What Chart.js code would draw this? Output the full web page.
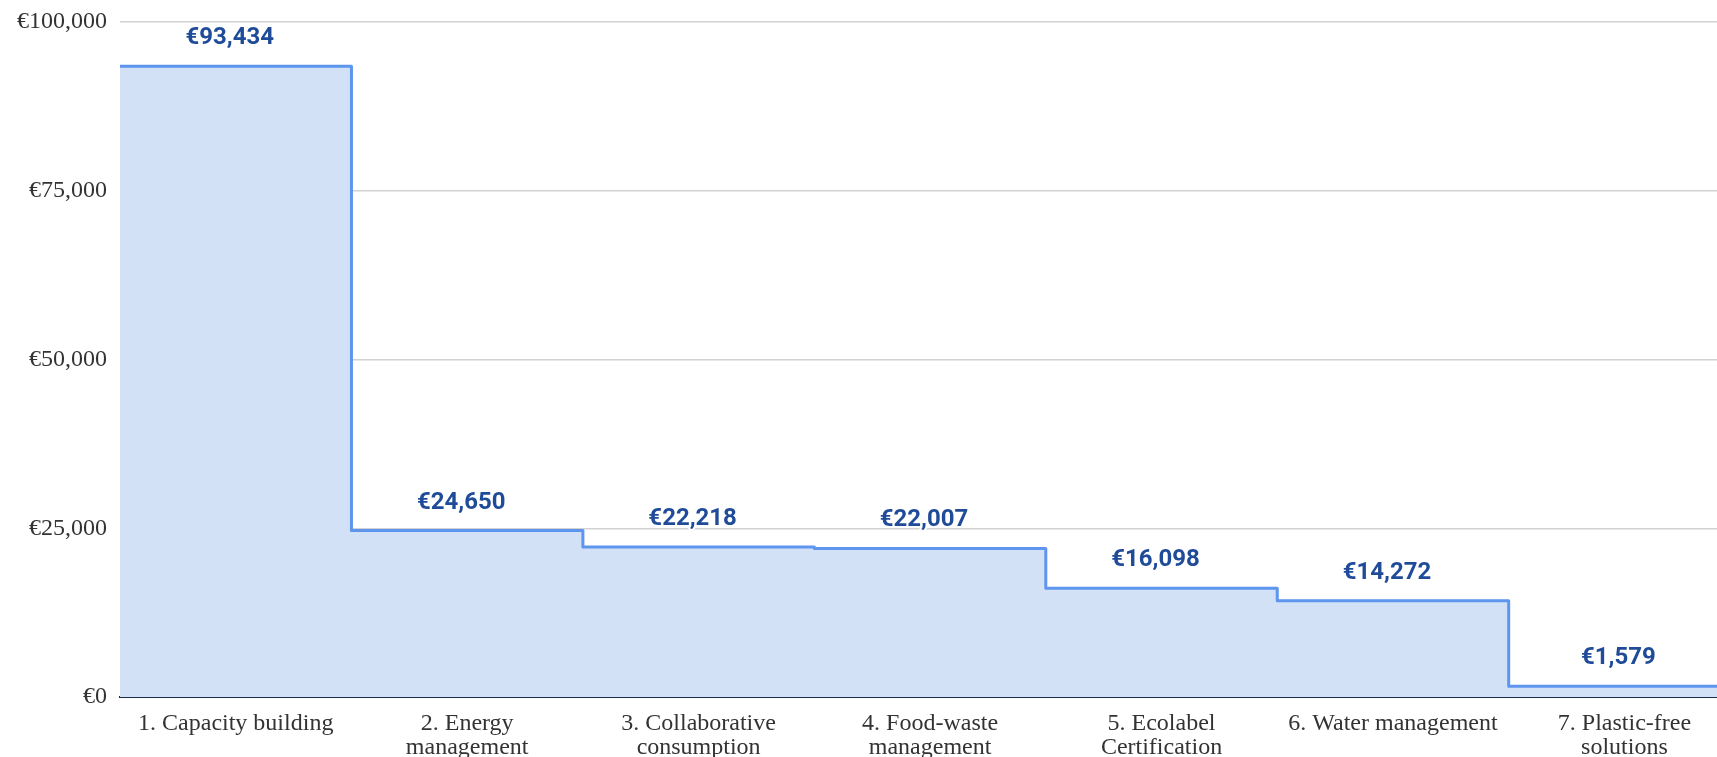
<!DOCTYPE html>
<html>
<head>
<meta charset="utf-8">
<script src="https://cdn.jsdelivr.net/npm/chart.js@4.4.1/dist/chart.umd.min.js"></script>
<style>
  html, body { margin: 0; padding: 0; background: #fff; }
  #wrap { width: 1717px; height: 757px; }
</style>
</head>
<body>
<div id="wrap"><canvas id="chart-steps"></canvas></div>
<script>
var categories = [
    '1. Capacity building',
    ['2. Energy', 'management'],
    ['3. Collaborative', 'consumption'],
    ['4. Food-waste', 'management'],
    ['5. Ecolabel', 'Certification'],
    '6. Water management',
    ['7. Plastic-free', 'solutions']
];
var amounts = [93434, 24650, 22218, 22007, 16098, 14272, 1579];
var yTicks = [0, 25000, 50000, 75000, 100000];

function euro(v) {
    return '€' + v.toLocaleString('en-US');
}

// one point per category edge, last value repeated so the final step runs to the end
var points = amounts.map(function (v, i) { return { x: i, y: v }; });
points.push({ x: amounts.length, y: amounts[amounts.length - 1] });

var valueLabels = {
    id: 'valueLabels',
    afterDatasetsDraw: function (chart) {
        var ctx = chart.ctx;
        var xs = chart.scales.x, ys = chart.scales.y;
        ctx.save();
        ctx.font = "bold 24px 'Roboto', sans-serif";
        ctx.textAlign = 'center';
        ctx.textBaseline = 'middle';
        ctx.lineJoin = 'round';
        amounts.forEach(function (v, i) {
            var px = xs.getPixelForValue(i + 0.5) - 6;
            var py = ys.getPixelForValue(v) - 28;
            ctx.lineWidth = 4;
            ctx.strokeStyle = '#ffffff';
            ctx.strokeText(euro(v), px, py);
            ctx.fillStyle = '#1f4b99';
            ctx.fillText(euro(v), px, py);
        });
        ctx.restore();
    }
};

var chartSteps = new Chart(document.getElementById('chart-steps'), {
    type: 'line',
    data: {
        datasets: [{
            data: points,
            stepped: true,
            fill: 'origin',
            borderColor: '#5e95ee',
            backgroundColor: '#d3e1f7',
            borderWidth: 3,
            borderJoinStyle: 'round',
            pointRadius: 0
        }]
    },
    options: {
        responsive: true,
        maintainAspectRatio: false,
        animation: false,
        layout: { padding: { top: 22, right: 0, left: 0, bottom: 0 } },
        plugins: {
            legend: { display: false },
            tooltip: { enabled: false }
        },
        scales: {
            x: {
                type: 'linear',
                min: 0,
                max: 6.9,
                grid: { display: false },
                border: { display: true, color: '#1c2a4a', width: 2 },
                afterBuildTicks: function (scale) {
                    scale.ticks = categories.map(function (c, i) { return { value: i + 0.5 }; });
                },
                afterFit: function (scale) {
                    scale.height = 60;
                    scale.paddingLeft = 0;
                    scale.paddingRight = 0;
                },
                ticks: {
                    autoSkip: false,
                    maxRotation: 0,
                    padding: 7,
                    color: '#333',
                    font: { family: "'Liberation Serif', serif", size: 24, lineHeight: 1.0 },
                    callback: function (value) {
                        return categories[Math.round(value - 0.5)];
                    }
                }
            },
            y: {
                min: 0,
                max: 100000,
                grid: { color: '#d2d2d2', lineWidth: 1.5, drawTicks: false },
                border: { display: false },
                afterBuildTicks: function (scale) {
                    scale.ticks = yTicks.map(function (t) { return { value: t }; });
                },
                afterFit: function (scale) {
                    scale.width = 120;
                    scale.paddingTop = 0;
                    scale.paddingBottom = 0;
                },
                ticks: {
                    padding: 13,
                    color: '#333',
                    font: { family: "'Liberation Serif', serif", size: 24 },
                    callback: function (value) { return euro(value); }
                }
            }
        }
    },
    plugins: [valueLabels]
});
</script>
</body>
</html>
